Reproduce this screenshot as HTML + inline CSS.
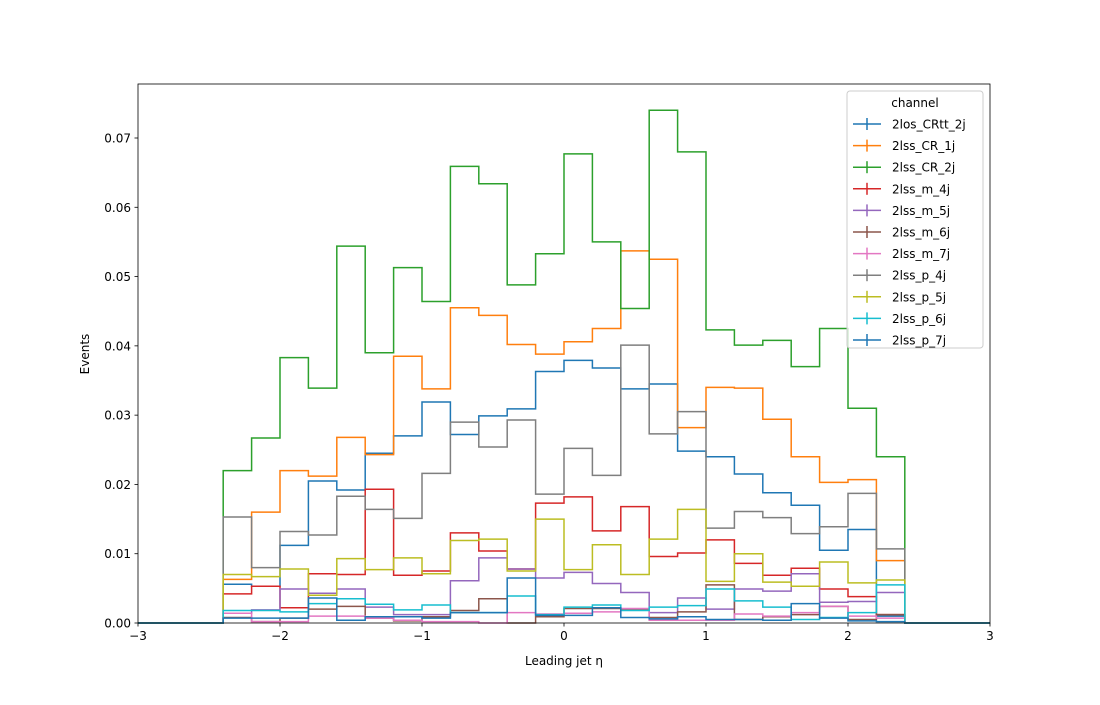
<!DOCTYPE html>
<html><head><meta charset="utf-8"><style>
body{margin:0;background:#fff;font-family:"Liberation Sans","DejaVu Sans",sans-serif}
svg text{font-family:"DejaVu Sans","Liberation Sans",sans-serif;font-size:12px;fill:#000}
</style></head><body>
<svg id="chart" width="1100" height="700" xmlns="http://www.w3.org/2000/svg"></svg>
<script>
const binEdgesMin = -3, binEdgesMax = 3, binWidth = 0.2;
const seriesNames = ["2los_CRtt_2j","2lss_CR_1j","2lss_CR_2j","2lss_m_4j","2lss_m_5j","2lss_m_6j","2lss_m_7j","2lss_p_4j","2lss_p_5j","2lss_p_6j","2lss_p_7j"];
const colors = ["#1f77b4","#ff7f0e","#2ca02c","#d62728","#9467bd","#8c564b","#e377c2","#7f7f7f","#bcbd22","#17becf","#1f77b4"];
const v_2los_CRtt_2j=[0.0056,0.0053,0.0112,0.0205,0.0192,0.0245,0.027,0.0319,0.0272,0.0299,0.0309,0.0363,0.0379,0.0368,0.0338,0.0345,0.0248,0.024,0.0215,0.0188,0.017,0.0105,0.0135,0.001];
const v_2lss_CR_1j=[0.0063,0.016,0.022,0.0212,0.0268,0.0243,0.0385,0.0338,0.0455,0.0444,0.0402,0.0388,0.0406,0.0425,0.0537,0.0525,0.0282,0.034,0.0339,0.0294,0.024,0.0203,0.0207,0.009];
const v_2lss_CR_2j=[0.022,0.0267,0.0383,0.0339,0.0544,0.039,0.0513,0.0464,0.0659,0.0634,0.0488,0.0533,0.0677,0.055,0.0454,0.074,0.068,0.0423,0.0401,0.0408,0.037,0.0425,0.031,0.024];
const v_2lss_m_4j=[0.0042,0.0053,0.0022,0.0071,0.007,0.0193,0.0069,0.0075,0.013,0.0104,0.0078,0.0173,0.0182,0.0133,0.0168,0.0096,0.0101,0.012,0.0086,0.0069,0.0079,0.0049,0.0038,0.0012];
const v_2lss_m_5j=[0.0014,0.0019,0.0049,0.0043,0.0049,0.0023,0.0012,0.0012,0.0061,0.0094,0.0078,0.0065,0.0073,0.0057,0.0044,0.0015,0.0036,0.002,0.0049,0.0046,0.0071,0.003,0.0031,0.0044];
const v_2lss_m_6j=[0.0008,0.0002,0.0007,0.002,0.0024,0.0007,0.0003,0.0009,0.0018,0.0035,0.0,0.0009,0.0021,0.0021,0.0019,0.0008,0.0016,0.0055,0.0005,0.0009,0.0012,0.0024,0.0005,0.0012];
const v_2lss_m_7j=[0.0014,0.0002,0.0002,0.001,0.001,0.0007,0.0004,0.0002,0.0002,0.0,0.0015,0.0013,0.0014,0.0016,0.0021,0.0004,0.0004,0.0004,0.0013,0.001,0.0015,0.0024,0.001,0.0007];
const v_2lss_p_4j=[0.0153,0.008,0.0132,0.0127,0.0183,0.0164,0.0151,0.0216,0.029,0.0254,0.0293,0.0186,0.0252,0.0213,0.0401,0.0273,0.0305,0.0137,0.0161,0.0152,0.0129,0.0139,0.0187,0.0107];
const v_2lss_p_5j=[0.007,0.0067,0.0078,0.004,0.0093,0.0077,0.0094,0.0071,0.0119,0.0121,0.0075,0.015,0.0077,0.0113,0.007,0.0121,0.0164,0.006,0.01,0.0059,0.0053,0.0088,0.0058,0.0062];
const v_2lss_p_6j=[0.0018,0.0018,0.0016,0.0028,0.0035,0.0027,0.0019,0.0026,0.0015,0.0015,0.0039,0.0012,0.0023,0.0026,0.0018,0.0023,0.0025,0.0049,0.0032,0.0023,0.0005,0.0008,0.0015,0.0055];
const v_2lss_p_7j=[0.0007,0.0007,0.0007,0.0036,0.0004,0.0009,0.0009,0.0007,0.0015,0.0015,0.0065,0.0011,0.0011,0.0022,0.0008,0.0006,0.0009,0.0005,0.0005,0.0004,0.0028,0.0007,0.0003,0.0002];
const allValues=[v_2los_CRtt_2j,v_2lss_CR_1j,v_2lss_CR_2j,v_2lss_m_4j,v_2lss_m_5j,v_2lss_m_6j,v_2lss_m_7j,v_2lss_p_4j,v_2lss_p_5j,v_2lss_p_6j,v_2lss_p_7j];
const dataMinEdge=-2.4;
const xTicks=[-3,-2,-1,0,1,2,3];
const xTickLabels=["\u22123","\u22122","\u22121","0","1","2","3"];
const yTicks=[0,0.01,0.02,0.03,0.04,0.05,0.06,0.07];
const yTickLabels=["0.00","0.01","0.02","0.03","0.04","0.05","0.06","0.07"];

const L=138,R=990,T=84,B=623;
const X=v=>L+(v-binEdgesMin)/(binEdgesMax-binEdgesMin)*(R-L);
const Y=v=>B-v/0.07*(B-138);
const svg=document.getElementById('chart');
const NS="http://www.w3.org/2000/svg";
function mk(tag,attrs){const e=document.createElementNS(NS,tag);for(const k in attrs)e.setAttribute(k,attrs[k]);svg.appendChild(e);return e;}

allValues.forEach((vals,si)=>{
  let d="M"+X(binEdgesMin)+","+Y(0)+" L"+X(dataMinEdge)+","+Y(0);
  vals.forEach((v,i)=>{const x0=X(dataMinEdge+i*binWidth),x1=X(dataMinEdge+(i+1)*binWidth);d+=" L"+x0+","+Y(v)+" L"+x1+","+Y(v);});
  const endE=dataMinEdge+vals.length*binWidth;
  d+=" L"+X(endE)+","+Y(0)+" L"+X(binEdgesMax)+","+Y(0);
  const p=mk('path',{d:d,fill:'none',stroke:colors[si],'stroke-width':1.5});
  
  
});

const frame=mk('rect',{x:L,y:T,width:R-L,height:B-T,fill:'none',stroke:'#000','stroke-width':0.8});



xTicks.forEach((t,i)=>{
  const tk=mk('line',{x1:X(t),x2:X(t),y1:B,y2:B+3.5,stroke:'#000','stroke-width':0.8});
  
  
  const tx=mk('text',{x:X(t),y:B+17,'text-anchor':'middle'});tx.textContent=xTickLabels[i];
  
  
});
yTicks.forEach((t,i)=>{
  const tk=mk('line',{x1:L-3.5,x2:L,y1:Y(t),y2:Y(t),stroke:'#000','stroke-width':0.8});
  
  
  const tx=mk('text',{x:L-7,y:Y(t)+4.5,'text-anchor':'end'});tx.textContent=yTickLabels[i];
  
  
});
const xl=mk('text',{x:564,y:665,'text-anchor':'middle'});xl.textContent="Leading jet  \u03b7";


const yl=mk('text',{x:89,y:354,'text-anchor':'middle',transform:'rotate(-90 89 354)'});yl.textContent="Events";



const lg=mk('rect',{x:847,y:91,width:136,height:257,rx:3,fill:'#fff','fill-opacity':0.8,stroke:'#ccc','stroke-width':1});


const lt=mk('text',{x:915,y:107,'text-anchor':'middle'});lt.textContent="channel";


seriesNames.forEach((n,i)=>{
  const y=124+i*21.6;
  const h=mk('line',{x1:853,x2:881,y1:y,y2:y,stroke:colors[i],'stroke-width':1.5});
  
  
  const hv=mk('line',{x1:867,x2:867,y1:y-6,y2:y+6,stroke:colors[i],'stroke-width':1.5});
  
  
  const t=mk('text',{x:892,y:y+4.5});t.textContent=n;
  
  
});
</script>
</body></html>
